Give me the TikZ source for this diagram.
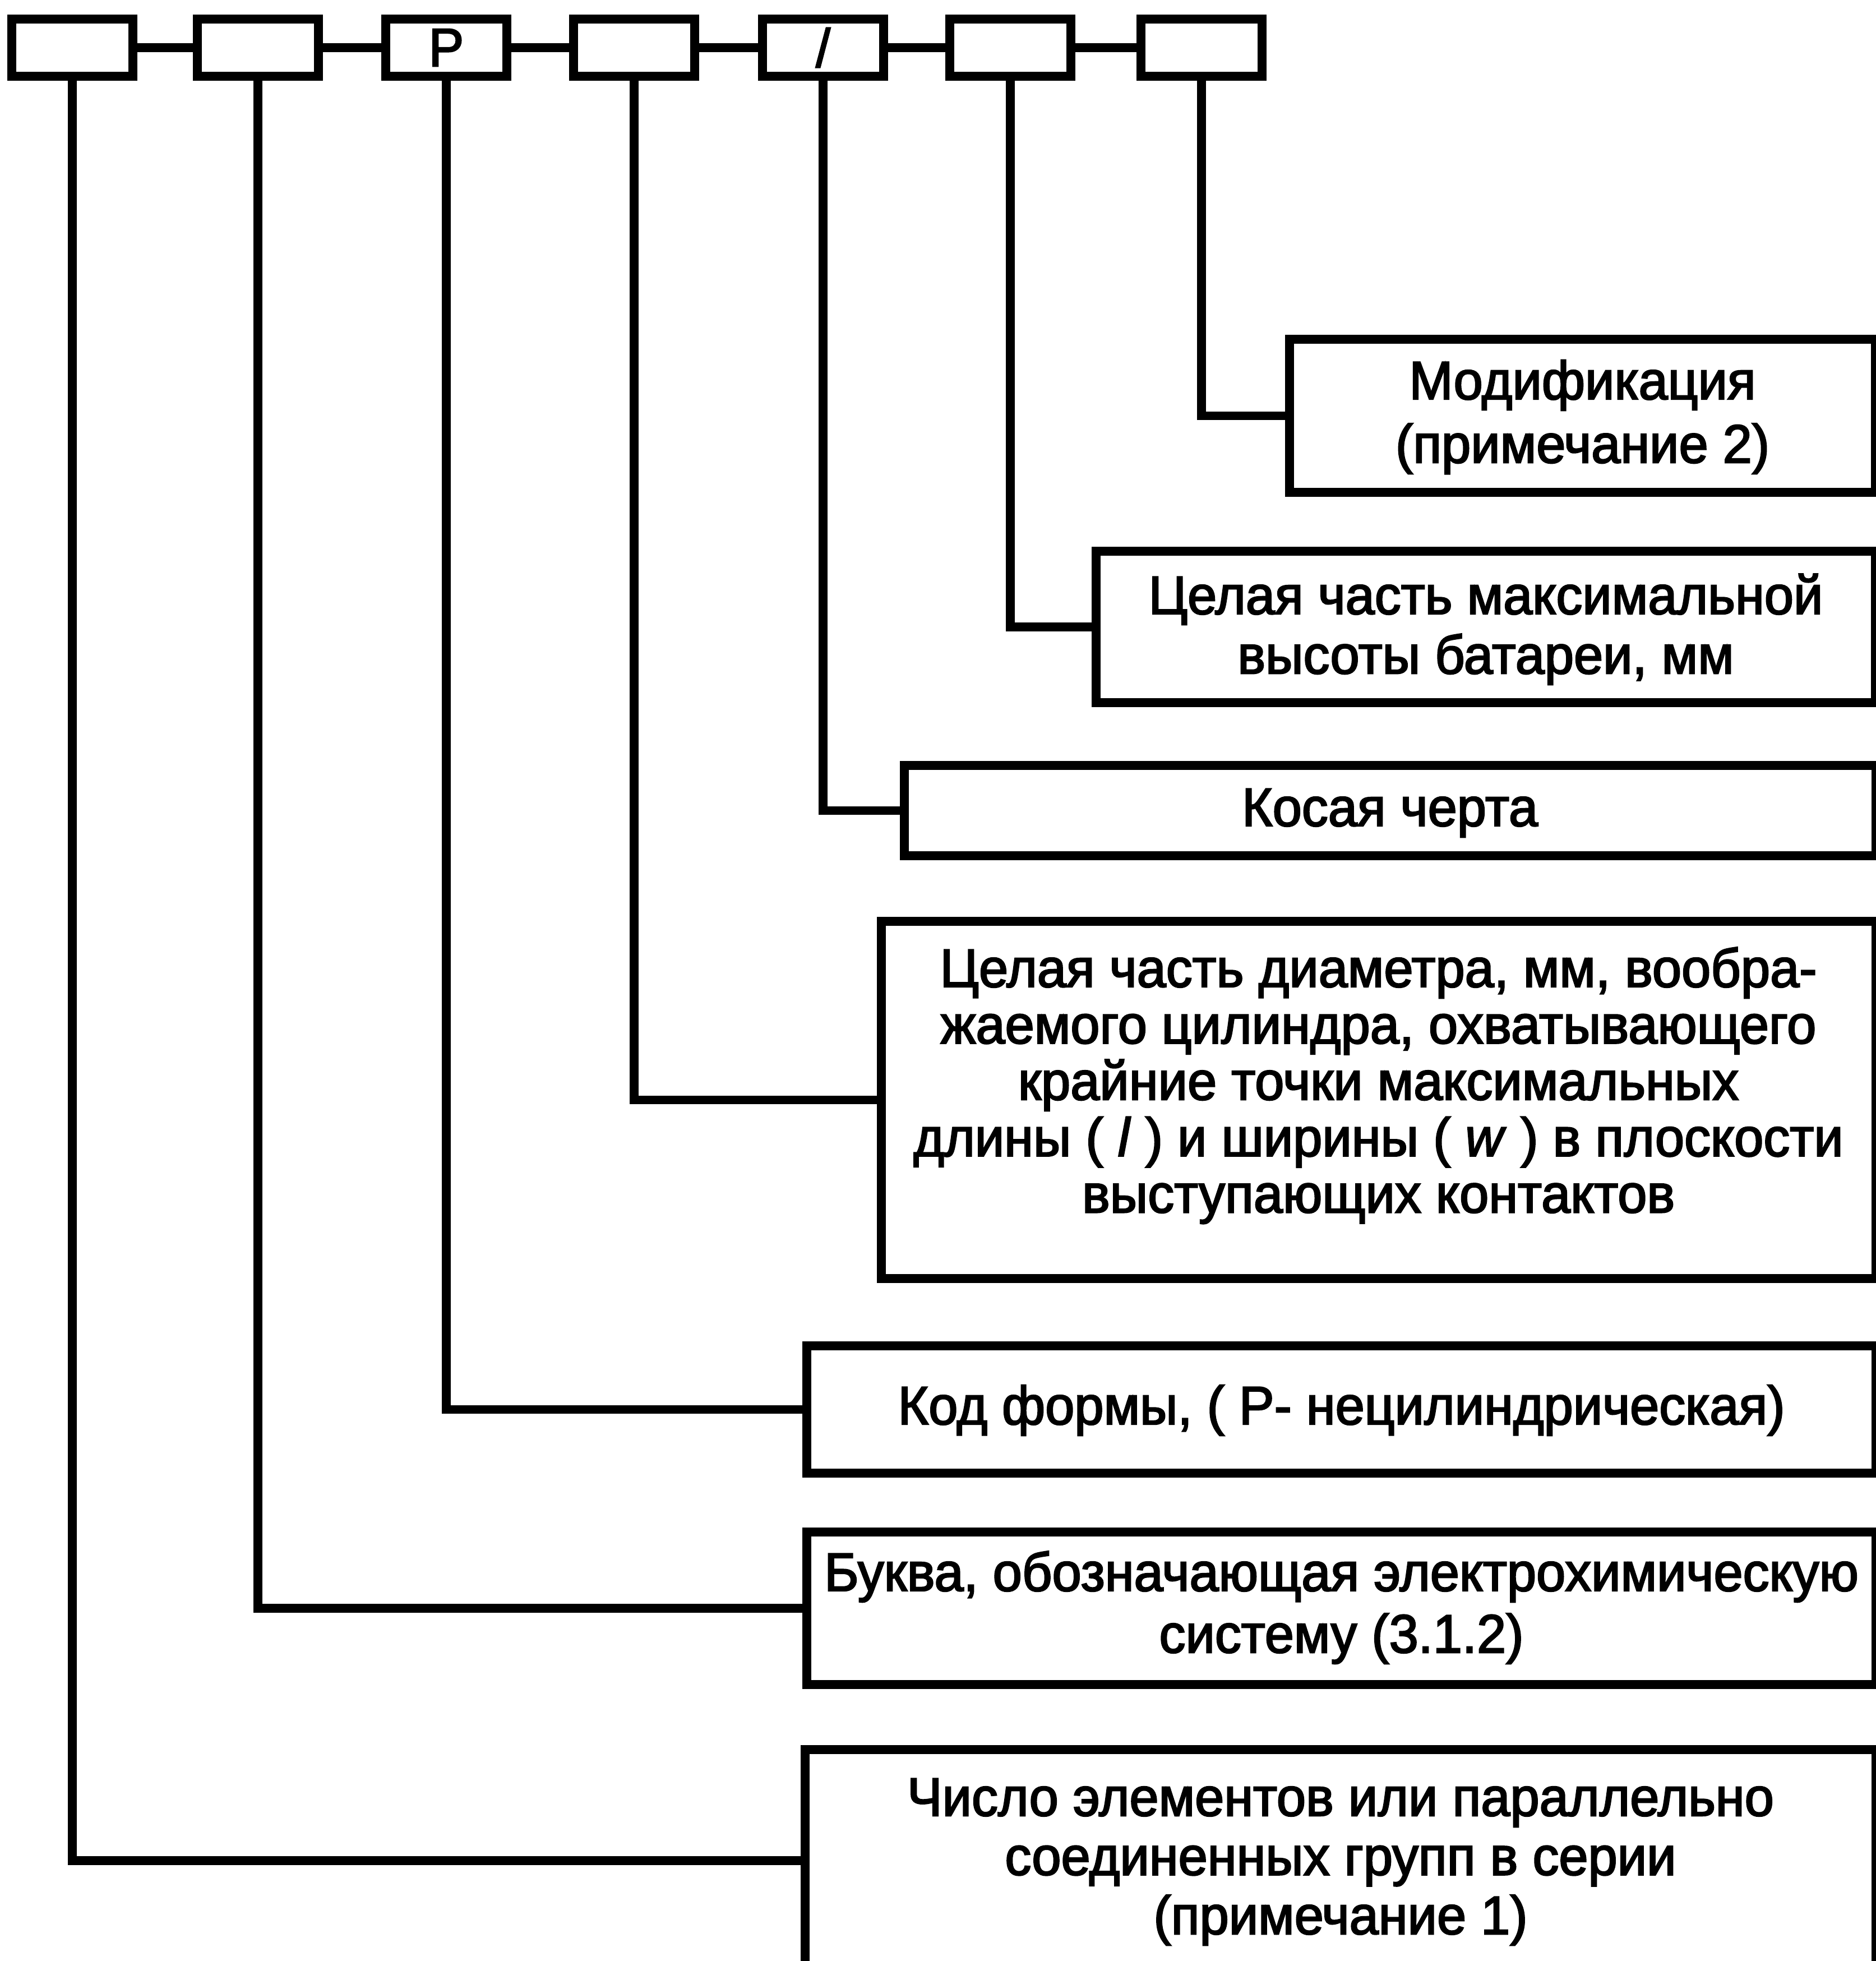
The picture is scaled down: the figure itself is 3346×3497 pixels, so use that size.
\documentclass[tikz,border=0pt]{standalone}
\usepackage{fontspec}
\setmainfont[FakeStretch=0.97,FakeBold=2.5]{Liberation Sans}
\newcommand{\mylines}[2]{\vtop{\baselineskip=#1\lineskiplimit=-100pt\halign{\hfil##\hfil\cr#2\crcr}}}
\tikzset{
  bx/.style={draw, line width=0.16cm, rectangle, inner sep=0pt},
  topbox/.style={bx, minimum width=2.15cm, minimum height=1.01cm, font=\fontsize{27.5}{29.5}\selectfont},
  lnk/.style={line width=0.155cm},
  lbl/.style={inner sep=0pt, anchor=base, font=\fontsize{27.5}{29.5}\selectfont},
}
\begin{document}
\begin{tikzpicture}[x=0.01cm, y=-0.01cm]
\useasboundingbox (0,0) rectangle (3346,3497);
% top row of boxes
\node[topbox] (b1) at (129,85) {};
\node[topbox] (b2) at (460,85) {};
\node[topbox] (b3) at (796,85) {P};
\node[topbox] (b4) at (1131,85) {};
\node[topbox] (b5) at (1468,85) {/};
\node[topbox] (b6) at (1802,85) {};
\node[topbox] (b7) at (2143,85) {};
\draw[lnk] (b1.east) -- (b2.west);
\draw[lnk] (b2.east) -- (b3.west);
\draw[lnk] (b3.east) -- (b4.west);
\draw[lnk] (b4.east) -- (b5.west);
\draw[lnk] (b5.east) -- (b6.west);
\draw[lnk] (b6.east) -- (b7.west);
% description boxes
\node[bx, minimum width=10.45cm, minimum height=2.73cm] (d7) at (2822.5,741.5) {};
\node[bx, minimum width=13.90cm, minimum height=2.70cm] (d6) at (2650,1118) {};
\node[bx, minimum width=17.32cm, minimum height=1.61cm] (d5) at (2479,1445.5) {};
\node[bx, minimum width=17.73cm, minimum height=6.37cm] (d4) at (2458.5,1961.5) {};
\node[bx, minimum width=19.05cm, minimum height=2.27cm] (d3) at (2392.5,2513.5) {};
\node[bx, minimum width=19.05cm, minimum height=2.72cm] (d2) at (2392.5,2868) {};
\node[bx, minimum width=19.08cm, minimum height=3.96cm] (d1) at (2391,3318) {};
% texts
\node[lbl] (t7) at (2822.5,712) {\mylines{32.2pt}{Модификация\cr(примечание 2)}};
\node[lbl] (t6) at (2650,1095) {\mylines{30.2pt}{Целая часть максимальной\cr высоты батареи, мм}};
\node[lbl] (t5) at (2479,1473) {Косая черта};
\node[lbl] (t4) at (2458.5,1760) {\mylines{28.6pt}{Целая часть диаметра, мм, вообра-\cr жаемого цилиндра, охватывающего\cr крайние точки максимальных\cr длины ( \textit{l} ) и ширины ( \textit{w} ) в плоскости\cr выступающих контактов}};
\node[lbl] (t3) at (2392.5,2540) {Код формы, ( P- нецилиндрическая)};
\node[lbl] (t2) at (2392.5,2837) {\mylines{31.3pt}{Буква, обозначающая электрохимическую\cr систему (3.1.2)}};
\node[lbl] (t1) at (2391,3238) {\mylines{30pt}{Число элементов или параллельно\cr соединенных групп в серии\cr (примечание 1)}};
% connectors
\draw[lnk] (b7.south) |- (d7.west);
\draw[lnk] (b6.south) |- (d6.west);
\draw[lnk] (b5.south) |- (d5.west);
\draw[lnk] (b4.south) |- (d4.west);
\draw[lnk] (b3.south) |- (d3.west);
\draw[lnk] (b2.south) |- (d2.west);
\draw[lnk] (b1.south) |- (d1.west);
\end{tikzpicture}
\end{document}
